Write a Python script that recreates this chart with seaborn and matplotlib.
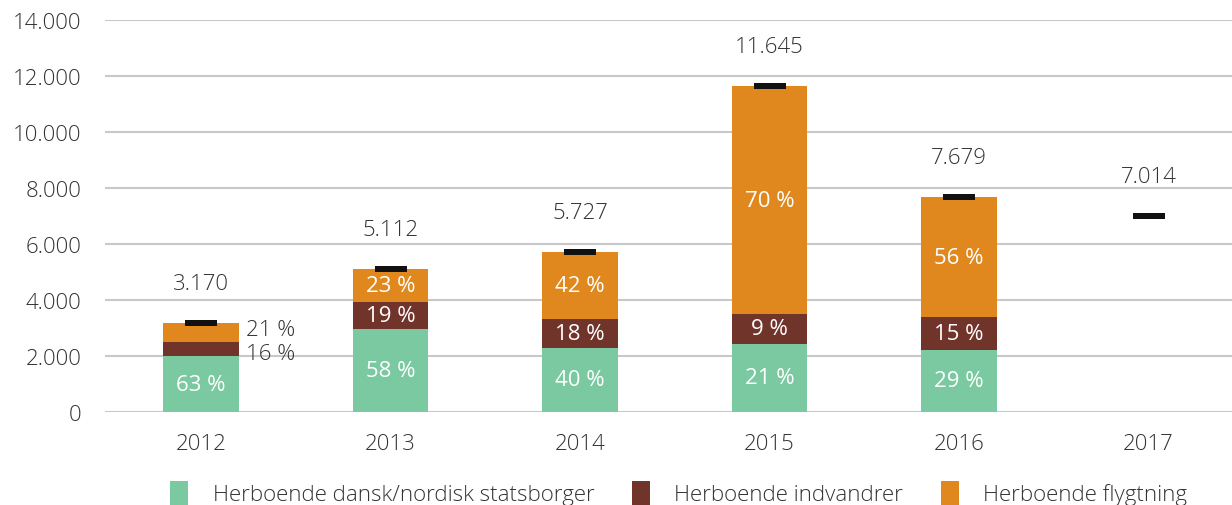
import matplotlib
matplotlib.use("Agg")
import matplotlib.pyplot as plt
from matplotlib.patches import Patch
import seaborn as sns
import numpy as np
import pandas as pd

years = ["2012", "2013", "2014", "2015", "2016", "2017"]
totals = [3170, 5112, 5727, 11645, 7679, 7014]
pct_dansk = [63, 58, 40, 21, 29, np.nan]
pct_indvandrer = [16, 19, 18, 9, 15, np.nan]
pct_flygtning = [21, 23, 42, 70, 56, np.nan]
labels = ["Herboende dansk/nordisk statsborger", "Herboende indvandrer", "Herboende flygtning"]
colors = ["#7bc9a0", "#71342b", "#e0881d"]
TEXT = "#333333"
FS = 16

sns.set_theme(style="white")
plt.rcParams["font.family"] = ["Open Sans", "DejaVu Sans"]
plt.rcParams["font.weight"] = "light"

tot = np.array(totals, dtype=float)
d = tot * np.array(pct_dansk) / 100
i = tot * np.array(pct_indvandrer) / 100
f = tot * np.array(pct_flygtning) / 100
df = pd.DataFrame({"year": years, "d": d, "di": d + i, "dif": d + i + f, "total": tot})

fig = plt.figure(figsize=(12.32, 5.06), dpi=100)
ax = fig.add_axes([0.0852, 0.1838, 0.9148, 0.7747])

# stacked bars drawn as cumulative layers
for col, c in zip(["dif", "di", "d"], colors[::-1]):
    sns.barplot(data=df, x="year", y=col, order=years, color=c, width=0.4,
                saturation=1, linewidth=0, ax=ax, zorder=3)

# black marker at total
ax.scatter(np.arange(len(years)), df["total"], marker=[(-2.75, -0.5), (2.75, -0.5), (2.75, 0.5), (-2.75, 0.5)],
           s=560, color="#111111", zorder=5, linewidths=0)

for k, t in enumerate(totals):
    ax.annotate(f"{t:,}".replace(",", "."), (k, t), xytext=(0, 28.5), textcoords="offset points",
                ha="center", va="center", fontsize=FS, color=TEXT)

for k in range(len(years)):
    if np.isnan(d[k]):
        continue
    segs = [(d[k] / 2, pct_dansk[k]), (d[k] + i[k] / 2, pct_indvandrer[k]),
            (d[k] + i[k] + f[k] / 2, pct_flygtning[k])]
    for j, (yc, p) in enumerate(segs):
        txt = f"{int(p)} %"
        if k == 0 and j > 0:
            off = -3 if j == 1 else 2
            ax.annotate(txt, (k + 0.2, yc), xytext=(5, off), textcoords="offset points",
                        ha="left", va="center", fontsize=FS, color=TEXT)
        else:
            ax.text(k, yc, txt, ha="center", va="center", fontsize=FS, color="white",
                    fontweight="normal", zorder=6)

ax.set_ylim(0, 14000)
ax.set_xlim(-0.507, 5.44)
ax.set_yticks(range(0, 14001, 2000))
ax.set_yticklabels([f"{v:,}".replace(",", ".") for v in range(0, 14001, 2000)])
ax.yaxis.grid(True, color="#c8c8c8", linewidth=1.5, zorder=0)
ax.set_axisbelow(True)
ax.tick_params(axis="both", length=0, labelsize=FS, labelcolor=TEXT)
ax.tick_params(axis="y", pad=17)
ax.tick_params(axis="x", pad=15)
ax.set_xlabel("")
ax.set_ylabel("")
sns.despine(ax=ax, left=True, bottom=True)

handles = [Patch(facecolor=c, edgecolor="none", label=l) for c, l in zip(colors, labels)]
fig.legend(handles=handles, loc="center", bbox_to_anchor=(0.551, 0.024), ncol=3, frameon=False,
           fontsize=FS, handlelength=0.8, handleheight=1.3, handletextpad=1.1,
           columnspacing=1.7, labelcolor=TEXT)

fig.savefig("out.png", dpi=100)
